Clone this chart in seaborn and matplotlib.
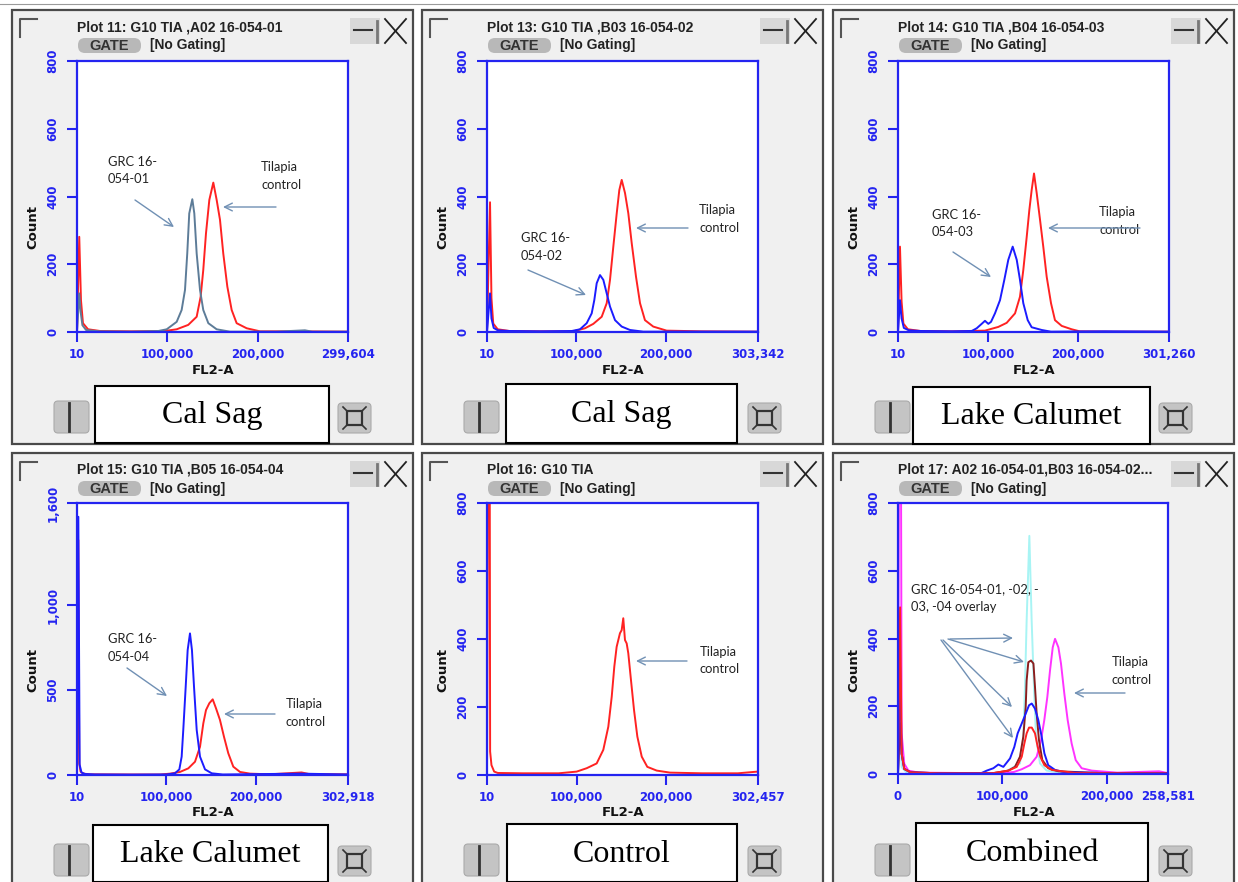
import matplotlib
matplotlib.use("Agg")
import matplotlib.pyplot as plt
from matplotlib.patches import Rectangle, FancyBboxPatch
import seaborn as sns

W, H = 1238, 882

# ---- data (x = FL2-A, y = count) ----
p1_ctrl_x = [10, 2500, 4400, 6600, 12200, 25400, 60000, 97000, 110200, 123000, 132300, 136700, 139600,
             142600, 146300, 150700, 154400, 158100, 161700, 166200, 171000, 176500, 187600, 202300, 240000, 299000]
p1_ctrl_y = [0, 281, 94, 26, 8, 3, 2, 3, 8, 21, 45, 104, 183, 291, 390, 441, 390, 331, 232, 134, 65, 26, 11, 2, 2, 1]
p1_grc_x = [10, 2500, 4000, 6000, 10000, 25000, 60000, 90000, 99200, 110200, 115700, 119400, 121900, 124100,
            127500, 129700, 132300, 136000, 139600, 145200, 154400, 169100, 220000, 252000, 260000, 299000]
p1_grc_y = [0, 114, 60, 20, 6, 2, 1, 3, 8, 30, 65, 124, 232, 350, 392, 350, 232, 124, 65, 26, 8, 1, 1, 5, 1, 1]

p2_ctrl_x = [10, 3400, 5000, 7000, 12000, 25000, 60000, 96600, 109700, 119000, 128400, 134000, 137700, 141400,
             145200, 148100, 150800, 154500, 158200, 162000, 166800, 171300, 176800, 186100, 201100, 240000, 303000]
p2_ctrl_y = [0, 383, 100, 25, 8, 3, 2, 2, 11, 24, 45, 85, 154, 252, 350, 419, 449, 410, 350, 262, 163, 85, 35, 16, 4, 2, 1]
p2_grc_x = [10, 3400, 5000, 7500, 12000, 25000, 60000, 95000, 104100, 111600, 117200, 120100, 122800, 126500,
            130200, 134000, 137700, 143300, 150800, 160000, 175000, 303000]
p2_grc_y = [0, 114, 40, 12, 5, 3, 2, 3, 8, 26, 55, 94, 144, 168, 154, 114, 75, 35, 16, 6, 1, 1]

p3_ctrl_x = [10, 2200, 4000, 6000, 11000, 25000, 60000, 96700, 111500, 120800, 130100, 135600, 139300, 143100,
             146000, 148600, 151200, 154200, 157900, 161500, 165300, 170100, 174500, 182000, 193100, 202000, 240000, 301000]
p3_ctrl_y = [0, 252, 90, 25, 8, 3, 2, 4, 15, 27, 55, 104, 183, 281, 360, 419, 468, 410, 331, 252, 163, 85, 35, 18, 8, 2, 1, 1]
p3_grc_x = [10, 2200, 4000, 6500, 12000, 25000, 60000, 82000, 87500, 93000, 96700, 100400, 103400, 107800, 113400,
            118200, 122600, 127500, 132000, 135600, 139300, 144200, 148600, 159700, 170000, 230000, 301000]
p3_grc_y = [0, 94, 40, 12, 5, 3, 2, 3, 11, 24, 33, 24, 30, 55, 94, 154, 213, 252, 213, 154, 85, 35, 14, 6, 1, 2, 1]

p4_ctrl_x = [10, 1500, 2500, 4000, 7000, 15000, 60000, 93000, 104000, 115100, 124400, 131900, 137500, 141200,
             144200, 147900, 151700, 155400, 159800, 164300, 169100, 174700, 182200, 193400, 215000, 251000, 260000, 302000]
p4_ctrl_y = [0, 1382, 69, 20, 8, 4, 3, 3, 8, 18, 39, 78, 166, 304, 382, 422, 445, 392, 324, 225, 128, 49, 18, 8, 4, 15, 5, 4]
p4_grc_x = [10, 1500, 3000, 5000, 9000, 20000, 60000, 100000, 109500, 114400, 117000, 118800, 121500, 123700,
            126300, 128500, 130800, 133800, 137500, 143100, 150600, 163000, 250000, 302000]
p4_grc_y = [0, 1519, 60, 15, 6, 3, 2, 3, 10, 33, 108, 265, 519, 735, 833, 735, 519, 265, 108, 33, 10, 3, 8, 3]

p5_ctrl_x = [10, 2500, 3500, 5000, 8000, 12000, 40000, 80000, 100100, 111300, 122400, 129800, 135400, 139200,
             142100, 144700, 148400, 150300, 152100, 154000, 155900, 157700, 160700, 164100, 167800, 172700,
             178900, 189400, 204200, 240000, 280000, 302000]
p5_ctrl_y = [0, 2000, 69, 29, 10, 6, 5, 5, 10, 20, 34, 74, 142, 230, 319, 377, 417, 426, 461, 397, 387, 358,
             279, 191, 113, 54, 24, 13, 7, 5, 5, 10]

p6_ctrl_x = [0, 2000, 3500, 6000, 10000, 20000, 60000, 100000, 111000, 118500, 126400, 132800, 137000, 140100,
             143000, 145600, 148200, 150400, 153600, 156100, 159300, 162500, 166300, 170200, 175900, 185600,
             210000, 250000, 258000]
p6_ctrl_y = [0, 2000, 120, 30, 10, 4, 3, 3, 6, 14, 26, 51, 100, 159, 227, 306, 374, 399, 374, 326, 237, 159,
             90, 41, 17, 10, 4, 8, 3]
p6_01_x = [0, 2000, 3500, 6000, 12000, 40000, 90000, 105700, 112000, 116800, 120000, 122300, 123200, 124800,
           127400, 129700, 131200, 132800, 135000, 138200, 143900, 153500, 200000, 258000]
p6_01_y = [0, 150, 60, 15, 5, 2, 2, 10, 21, 51, 110, 198, 276, 330, 335, 326, 257, 178, 100, 41, 17, 8, 2, 2]
p6_02_x = [0, 2000, 3500, 6000, 12000, 40000, 90000, 105700, 113700, 118500, 121000, 123200, 125500, 128100,
           131200, 133800, 136300, 140200, 147300, 170000, 258000]
p6_02_y = [0, 492, 60, 15, 5, 2, 2, 10, 21, 51, 90, 120, 137, 137, 120, 80, 51, 26, 12, 3, 2]
p6_03_x = [0, 2000, 3500, 6000, 12000, 40000, 80000, 85000, 91300, 96100, 100900, 107300, 111400, 114600,
           118500, 122300, 125500, 128100, 131200, 134400, 137600, 140200, 143900, 150400, 160000, 200000, 258000]
p6_03_y = [0, 316, 60, 15, 5, 2, 3, 10, 17, 28, 21, 46, 80, 120, 149, 178, 203, 208, 193, 159, 110, 61, 26,
           12, 5, 3, 2]
p6_04_x = [0, 2000, 3500, 8000, 40000, 100000, 116800, 120000, 121600, 123200, 125800, 128000, 130200, 132200,
           136000, 142400, 160000, 258000]
p6_04_y = [0, 100, 20, 5, 2, 2, 31, 110, 257, 453, 703, 453, 257, 110, 31, 10, 2, 2]

titles = ["Plot 11: G10 TIA ,A02 16-054-01", "Plot 13: G10 TIA ,B03 16-054-02",
          "Plot 14: G10 TIA ,B04 16-054-03", "Plot 15: G10 TIA ,B05 16-054-04",
          "Plot 16: G10 TIA", "Plot 17: A02 16-054-01,B03 16-054-02..."]
captions = ["Cal Sag", "Cal Sag", "Lake Calumet", "Lake Calumet", "Control", "Combined"]
x_max = [299604, 303342, 301260, 302918, 302457, 258581]
y_max = [800, 800, 800, 1600, 800, 800]
y_ticks_800 = [0, 200, 400, 600, 800]
y_ticks_1600 = [0, 500, 1000, 1600]

RED = '#ff2222'
BLUE = '#1c1cff'
AXBLUE = '#2424f0'
ARROW = '#7090b4'

fig = plt.figure(figsize=(W / 100, H / 100), dpi=100)
fig.patch.set_facecolor('white')

bg = fig.add_axes([0, 0, 1, 1], zorder=0)
bg.set_xlim(0, W); bg.set_ylim(H, 0); bg.axis('off')
fg = fig.add_axes([0, 0, 1, 1], zorder=5)
fg.set_xlim(0, W); fg.set_ylim(H, 0); fg.axis('off')

bg.plot([0, W], [4, 4], color='#9a9a9a', lw=0.8)


def window(ox, oy, bottom, title, caption, cap):
    bg.add_patch(Rectangle((ox + 12, oy + 10), 401, bottom - oy - 10, fc='#f0f0f0', ec='#4a4a4a', lw=1.6))
    bg.plot([ox + 20, ox + 20, ox + 37], [oy + 37, oy + 19, oy + 19], color='#555555', lw=1.5)
    bg.text(ox + 77, oy + 27, title, fontsize=10, fontweight='bold', family='Liberation Sans',
            va='center', ha='left', color='#222222')
    bg.add_patch(FancyBboxPatch((ox + 78, oy + 38), 63, 15, boxstyle='round,pad=0,rounding_size=7',
                                fc='#b8b8b8', ec='none'))
    bg.text(ox + 109, oy + 46, 'GATE', fontsize=10.5, fontweight='bold', family='Liberation Sans',
            va='center', ha='center', color='#333333')
    bg.text(ox + 150, oy + 45.5, '[No Gating]', fontsize=10, fontweight='bold', family='Liberation Sans',
            va='center', ha='left', color='#222222')
    # window controls
    bg.add_patch(Rectangle((ox + 350, oy + 18), 30, 26, fc='#d8d8d8', ec='none'))
    bg.plot([ox + 354, ox + 372], [oy + 30, oy + 30], color='#333333', lw=1.5)
    bg.plot([ox + 377, ox + 377], [oy + 21, oy + 42], color='#777777', lw=2)
    bg.plot([ox + 385, ox + 406], [oy + 19, oy + 43], color='#222222', lw=1.3)
    bg.plot([ox + 406, ox + 385], [oy + 19, oy + 43], color='#222222', lw=1.3)
    # bottom buttons
    bg.add_patch(FancyBboxPatch((ox + 54, oy + 401), 35, 32, boxstyle='round,pad=0,rounding_size=4',
                                fc='#c4c4c4', ec='#aaaaaa', lw=0.8))
    bg.plot([ox + 69, ox + 69], [oy + 403, oy + 431], color='#333333', lw=2)
    bg.add_patch(FancyBboxPatch((ox + 338, oy + 403), 33, 30, boxstyle='round,pad=0,rounding_size=4',
                                fc='#c4c4c4', ec='#aaaaaa', lw=0.8))
    bg.add_patch(Rectangle((ox + 347, oy + 411), 15, 14, fc='none', ec='#333333', lw=1.6))
    for cx, cy, dx, dy in [(343, 407, 1, 1), (366, 407, -1, 1), (343, 429, 1, -1), (366, 429, -1, -1)]:
        bg.plot([ox + cx, ox + cx + 4 * dx], [oy + cy, oy + cy + 4 * dy], color='#333333', lw=1.2)
    # axis titles
    bg.text(ox + 33, oy + 227, 'Count', rotation=90, fontsize=9.5, fontweight='bold',
            va='center', ha='center', color='#111111')
    bg.text(ox + 213, oy + 370, 'FL2-A', fontsize=9.5, fontweight='bold',
            va='center', ha='center', color='#111111')
    # caption box
    x0, y0, x1, y1 = cap
    bg.add_patch(Rectangle((x0, y0), x1 - x0, y1 - y0, fc='white', ec='black', lw=1.5))
    bg.text((x0 + x1) / 2, (y0 + y1) / 2 + 1, caption, family='Liberation Serif', fontsize=23,
            va='center', ha='center', color='black')


win_pos = [(0, 0, 444), (410, 0, 444), (821, 0, 444), (0, 443, 886), (410, 443, 886), (821, 443, 886)]
cap_rects = [(95, 386, 329, 443), (506, 384, 737, 443), (913, 387, 1150, 444),
             (93, 825, 328, 882), (507, 824, 737, 882), (916, 823, 1148, 882)]
for i in range(6):
    ox, oy, bot = win_pos[i]
    window(ox, oy, bot, titles[i], captions[i], cap_rects[i])

ax_px = [(77, 61, 348, 332), (487, 61, 758, 332), (898, 61, 1169, 332),
         (77, 503, 348, 775), (487, 503, 758, 775), (898, 503, 1168, 774)]
axes = []
for l, t, r, b in ax_px:
    ax = fig.add_axes([l / W, 1 - b / H, (r - l) / W, (b - t) / H], zorder=2)
    axes.append(ax)


def line(ax, x, y, color, lw=1.4):
    sns.lineplot(x=x, y=y, ax=ax, color=color, linewidth=lw, sort=False, estimator=None)


line(axes[0], p1_ctrl_x, p1_ctrl_y, RED)
line(axes[0], p1_grc_x, p1_grc_y, '#5d7c98')
line(axes[1], p2_ctrl_x, p2_ctrl_y, RED)
line(axes[1], p2_grc_x, p2_grc_y, BLUE)
line(axes[2], p3_ctrl_x, p3_ctrl_y, RED)
line(axes[2], p3_grc_x, p3_grc_y, BLUE)
line(axes[3], p4_ctrl_x, p4_ctrl_y, RED)
line(axes[3], p4_grc_x, p4_grc_y, BLUE)
line(axes[4], p5_ctrl_x, p5_ctrl_y, RED)
line(axes[5], p6_04_x, p6_04_y, '#a8f4f4')
line(axes[5], p6_ctrl_x, p6_ctrl_y, '#ff33ff')
line(axes[5], p6_01_x, p6_01_y, '#8b1e1e')
line(axes[5], p6_03_x, p6_03_y, BLUE)
line(axes[5], p6_02_x, p6_02_y, RED)


def fmt(v):
    return f"{v:,}"


for i, ax in enumerate(axes):
    xmin = 0 if i == 5 else 10
    ax.set_xlim(xmin, x_max[i])
    ax.set_ylim(0, y_max[i])
    ax.set_facecolor('white')
    for s in ax.spines.values():
        s.set_color(AXBLUE)
        s.set_linewidth(1.6)
    xt = [xmin, 100000, 200000, x_max[i]]
    ax.set_xticks(xt)
    ax.set_xticklabels([fmt(v) for v in xt])
    yt = y_ticks_1600 if y_max[i] == 1600 else y_ticks_800
    ax.set_yticks(yt)
    ax.set_yticklabels([fmt(v) for v in yt], rotation=90, va='center')
    ax.tick_params(axis='both', colors=AXBLUE, length=7.2, width=1.5, labelsize=8.5)
    ax.tick_params(axis='x', pad=4)
    ax.tick_params(axis='y', pad=5.5)
    for t in ax.get_xticklabels() + ax.get_yticklabels():
        t.set_fontweight('bold')
    ax.set_xlabel('')
    ax.set_ylabel('')

# ---- annotations ----
ann_font = dict(family=['Lato', 'DejaVu Sans'], fontsize=9.3, color='#222222', va='center', ha='left',
                linespacing=1.55)


def arrow(x0, y0, x1, y1):
    fg.annotate('', xy=(x1, y1), xytext=(x0, y0),
                arrowprops=dict(arrowstyle='->', color=ARROW, lw=1.0, mutation_scale=14, shrinkA=0, shrinkB=0))


fg.text(108, 170.5, 'GRC 16-\n054-01', **ann_font)
arrow(135, 200, 174, 227)
fg.text(261, 176, 'Tilapia\ncontrol', **ann_font)
arrow(276, 207, 223, 207)

fg.text(521, 247, 'GRC 16-\n054-02', **ann_font)
arrow(528, 270, 586, 295)
fg.text(699, 219, 'Tilapia\ncontrol', **ann_font)
arrow(688, 228, 636, 228)

fg.text(932, 223.5, 'GRC 16-\n054-03', **ann_font)
arrow(953, 252, 991, 277)
fg.text(1099, 221, 'Tilapia\ncontrol', **ann_font)
arrow(1140, 228, 1048, 228)

fg.text(108, 648, 'GRC 16-\n054-04', **ann_font)
arrow(127, 668, 167, 696)
fg.text(286, 713, 'Tilapia\ncontrol', **ann_font)
arrow(275, 714, 224, 714)

fg.text(700, 660.5, 'Tilapia\ncontrol', **ann_font)
arrow(687, 661, 636, 661)

fg.text(911, 598, 'GRC 16-054-01, -02, -\n03, -04 overlay', **ann_font)
arrow(950, 639, 1013, 638)
arrow(948, 639, 1024, 662)
arrow(943, 640, 1012, 707)
arrow(941, 640, 1013, 738)
fg.text(1112, 671, 'Tilapia\ncontrol', **ann_font)
arrow(1125, 693, 1074, 693)

fig.savefig('out.png', dpi=100)
